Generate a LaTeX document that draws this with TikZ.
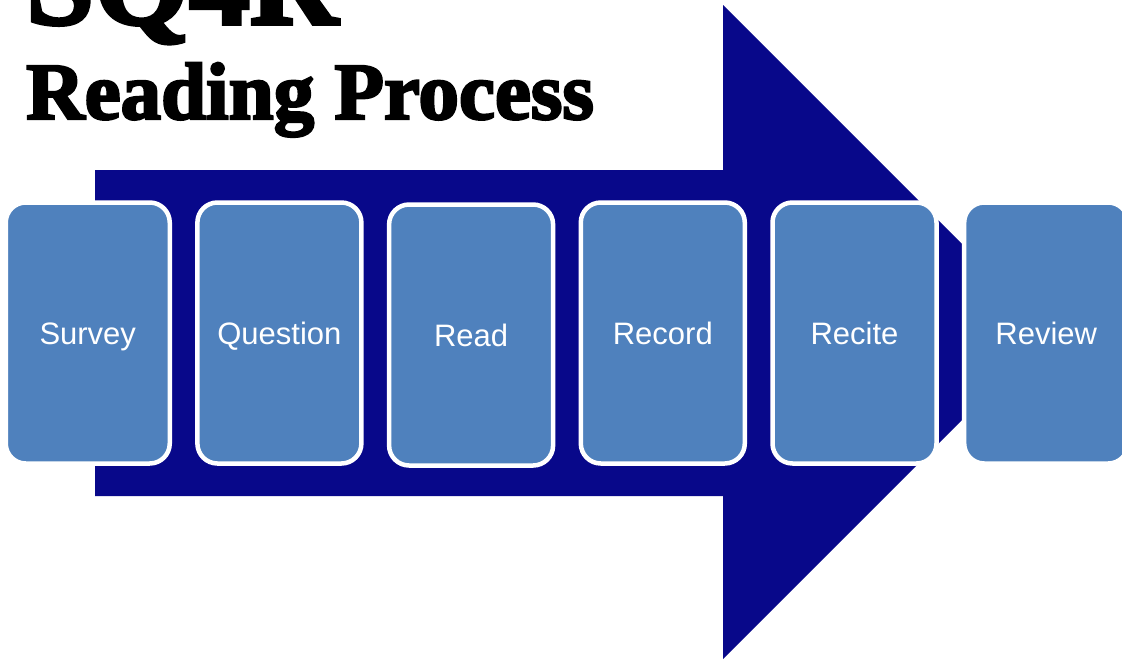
\documentclass[tikz,border=0pt]{standalone}
\usepackage{fontspec}
\setmainfont{Liberation Sans}
\newfontfamily\titlefont[FakeBold=3]{Liberation Serif Bold}
\definecolor{arrowblue}{HTML}{08088A}
\definecolor{boxblue}{HTML}{4F81BD}
\tikzset{
  stepbox/.style={rounded corners=20pt, draw=white, line width=4.5pt, fill=boxblue,
    minimum width=164pt, minimum height=261pt, inner sep=0pt, text=white,
    text height=22pt, text depth=0pt,
    font=\fontsize{31}{31}\selectfont},
  titletext/.style={anchor=base west, inner sep=0pt, text=black}
}
\begin{document}
\begin{tikzpicture}[x=1pt,y=-1pt]
\useasboundingbox (0,0) rectangle (1122,659);
\clip (0,0) rectangle (1122,659);
\fill[arrowblue] (95,170) -- (723,170) -- (723,5) -- (1050,332) -- (723,659) -- (723,496) -- (95,496) -- cycle;
\node[titletext, font=\titlefont\fontsize{122}{122}\selectfont] (sq) at (26,24) {SQ4R};
\node[titletext, font=\titlefont\fontsize{81}{81}\selectfont] (rp) at (26,119) {Reading Process};
\node[stepbox] (survey) at (87.75,333) {Survey};
\node[stepbox] (question) at (279.4,333) {Question};
\node[stepbox] (read) at (471.1,335) {Read};
\node[stepbox] (record) at (662.8,333) {Record};
\node[stepbox] (recite) at (854.5,333) {Recite};
\node[stepbox] (review) at (1046.2,333) {Review};
\end{tikzpicture}
\end{document}
